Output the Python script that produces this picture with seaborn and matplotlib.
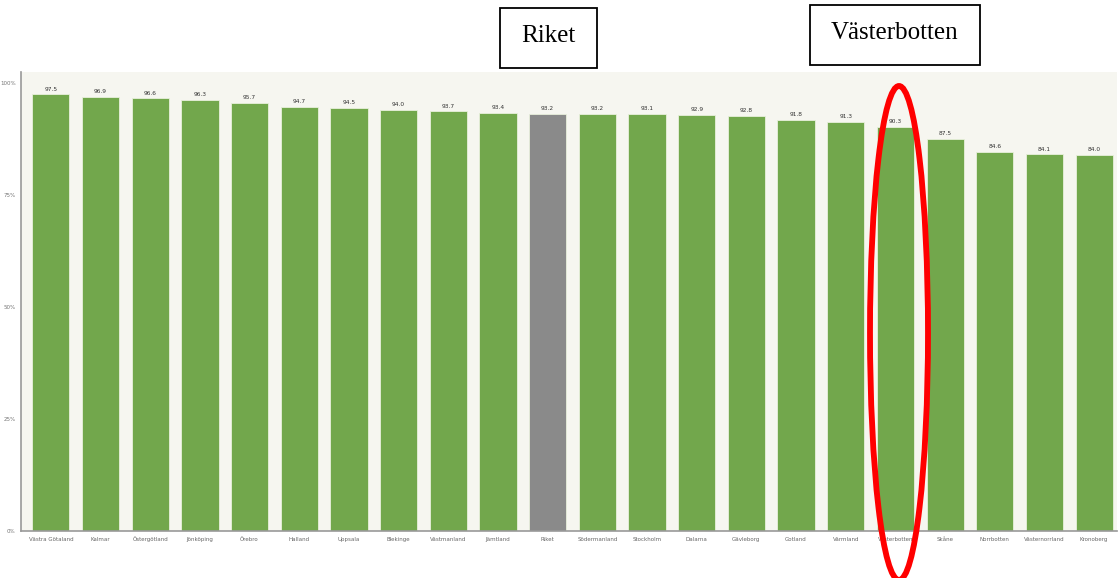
import matplotlib
matplotlib.use("Agg")
import matplotlib.pyplot as plt
import seaborn as sns
import pandas as pd
from matplotlib.patches import Ellipse, Rectangle

regions = ["Västra Götaland", "Kalmar", "Östergötland", "Jönköping", "Örebro",
           "Halland", "Uppsala", "Blekinge", "Västmanland", "Jämtland", "Riket",
           "Södermanland", "Stockholm", "Dalarna", "Gävleborg", "Gotland",
           "Värmland", "Västerbotten", "Skåne", "Norrbotten", "Västernorrland",
           "Kronoberg"]
values = [97.5, 96.9, 96.6, 96.3, 95.7, 94.7, 94.5, 94.0, 93.7, 93.4, 93.2,
          93.2, 93.1, 92.9, 92.8, 91.8, 91.3, 90.3, 87.5, 84.6, 84.1, 84.0]
yticks = [0, 25, 50, 75, 100]
ytick_labels = ["0%", "25%", "50%", "75%", "100%"]

green = "#72a74c"
grey = "#8a8a8a"
palette = {r: (grey if r == "Riket" else green) for r in regions}

df = pd.DataFrame({"region": regions, "value": values})

sns.set_theme(style="white")
fig = plt.figure(figsize=(11.19, 5.78), dpi=100)
ax = fig.add_axes([0.0188, 0.0813, 0.979, 0.794])
ax.set_facecolor("#f6f6f0")

sns.barplot(data=df, x="region", y="value", hue="region", palette=palette,
            legend=False, width=0.75, edgecolor="#e8f0dc", linewidth=0.6,
            saturation=1, ax=ax)

for c in ax.containers:
    ax.bar_label(c, fmt="%.1f", fontsize=4.2, color="#333333", padding=2)

ax.set_ylim(0, 102.5)
ax.set_xlim(-0.6, 21.45)
ax.set_yticks(yticks)
ax.set_yticklabels(ytick_labels)
ax.set_xlabel("")
ax.set_ylabel("")
ax.tick_params(axis="both", labelsize=4, colors="#777777", length=2, width=0.5, pad=2)
ax.tick_params(axis="x", labelcolor="#666666")
for s in ["top", "right"]:
    ax.spines[s].set_visible(False)
for s in ["left", "bottom"]:
    ax.spines[s].set_color("#999999")
    ax.spines[s].set_linewidth(1.2)

W, H = 1119, 578
def box(x0, y0, x1, y1, text):
    fig.patches.append(Rectangle((x0 / W, 1 - y1 / H), (x1 - x0) / W, (y1 - y0) / H,
                                 transform=fig.transFigure, fill=True,
                                 facecolor="white", edgecolor="black", linewidth=1.3))
    fig.text((x0 + x1) / 2 / W, 1 - ((y0 + y1) / 2 - 2) / H, text,
             ha="center", va="center", fontsize=18, family="Liberation Serif",
             color="black")

box(500, 8, 597, 68, "Riket")
box(810, 5, 980, 65, "Västerbotten")

fig.patches.append(Ellipse((899 / W, 1 - 333 / H), 58 / W, 494 / H,
                           transform=fig.transFigure, fill=False,
                           edgecolor="#ff0000", linewidth=4.2))

fig.savefig("out.png", dpi=100, facecolor="white")
